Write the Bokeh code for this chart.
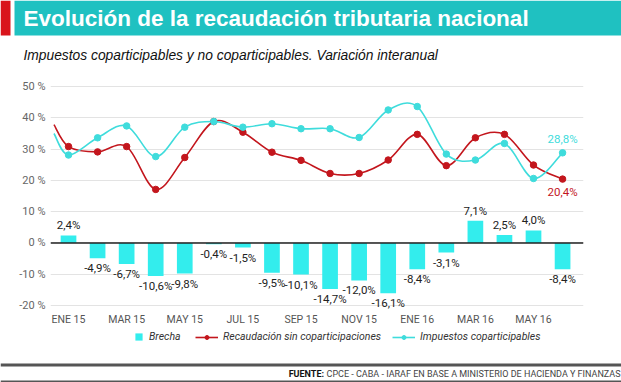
from bokeh.plotting import figure
from bokeh.layouts import column
from bokeh.models import (ColumnDataSource, FixedTicker, Span, Legend, LegendItem, Range1d)
from bokeh.core.properties import value
from bokeh.embed import file_html
from bokeh.resources import INLINE

# ---------------- data ----------------
MONTHS = ["ENE 15", "FEB 15", "MAR 15", "ABR 15", "MAY 15", "JUN 15", "JUL 15", "AGO 15",
          "SEP 15", "OCT 15", "NOV 15", "DIC 15", "ENE 16", "FEB 16", "MAR 16", "ABR 16",
          "MAY 16", "JUN 16"]
BRECHA = [2.4, -4.9, -6.7, -10.6, -9.8, -0.4, -1.5, -9.5, -10.1, -14.7, -12.0, -16.1,
          -8.4, -3.1, 7.1, 2.5, 4.0, -8.4]
RECAUDACION = [30.8, 29.1, 30.8, 17.1, 27.3, 38.8, 35.4, 29.0, 26.4, 22.2, 22.2, 26.5,
               34.7, 24.7, 33.6, 34.7, 24.9, 20.4]
COPARTICIPABLES = [28.1, 33.6, 37.4, 27.6, 37.0, 38.8, 37.0, 38.1, 36.5, 36.5, 33.7, 42.5,
                   43.6, 28.4, 26.5, 31.8, 20.6, 28.8]
# values where the curves enter the plot area (half a step before ENE 15)
LEAD_RECAUDACION = 37.8
LEAD_COPARTICIPABLES = 35.0
Y_TICKS = [-20, -10, 0, 10, 20, 30, 40, 50]
Y_TICK_LABELS = ["-20 %", "-10 %", "0 %", "10 %", "20 %", "30 %", "40 %", "50 %"]
X_TICK_LABELS = ["ENE 15", "MAR 15", "MAY 15", "JUL 15", "SEP 15", "NOV 15", "ENE 16",
                 "MAR 16", "MAY 16"]

TITLE = "Evolución de la recaudación tributaria nacional"
SUBTITLE = "Impuestos coparticipables y no coparticipables.  Variación interanual"
SOURCE_BOLD = "FUENTE:"
SOURCE = "CPCE - CABA - IARAF EN BASE A MINISTERIO DE HACIENDA Y FINANZAS"

# ---------------- styles ----------------
W = 621
H_HEAD, H_MAIN, H_LEG, H_FOOT = 66, 262, 18, 36
COND = "Roboto"
SANS = "Liberation Sans"
RED = "#c3161d"
CYAN = "#3fdcdc"
BAR = "#33eded"
TEAL = "#1fc1c1"
STRIP_RED = "#d9141b"


def pct(v):
    return f"{v:.1f}".replace(".", ",") + "%"


def blank_fig(h, **kw):
    f = figure(width=W, height=h, output_backend="svg", toolbar_location=None,
               x_axis_location=None, y_axis_location=None, min_border=0,
               outline_line_color=None, background_fill_color="white",
               border_fill_color="white", **kw)
    f.grid.visible = False
    f.frame_align = False
    return f


# ---------------- header ----------------
head = blank_fig(H_HEAD, x_range=Range1d(0, W), y_range=Range1d(H_HEAD, 0))
head.quad(left=[0], right=[10], top=[0], bottom=[35], fill_color=STRIP_RED, line_color=None)
head.quad(left=[14], right=[W], top=[0], bottom=[35], fill_color=TEAL, line_color=None)
head.text(x=[23], y=[18], text=[TITLE], text_font=value(SANS), text_font_style="bold",
          text_font_size="22.5px", text_color="white", text_baseline="middle")
head.text(x=[23], y=[55], text=[SUBTITLE], text_font=value(SANS), text_font_style="italic",
          text_font_size="13.8px", text_color="#111111", text_baseline="middle")

# ---------------- main chart ----------------
idx = list(range(len(MONTHS)))

p = figure(width=W, height=H_MAIN, output_backend="svg", toolbar_location=None,
           x_range=(-0.62, 17.72), y_range=(-21.6, 51.6),
           min_border_left=50, min_border_right=38, min_border_top=15,
           min_border_bottom=16, outline_line_color=None,
           background_fill_color="white", border_fill_color="white")
p.frame_align = False

p.yaxis.ticker = FixedTicker(ticks=Y_TICKS)
p.yaxis.major_label_overrides = {t: l for t, l in zip(Y_TICKS, Y_TICK_LABELS)}
p.xaxis.ticker = FixedTicker(ticks=[MONTHS.index(m) for m in X_TICK_LABELS])
p.xaxis.major_label_overrides = {MONTHS.index(m): m for m in X_TICK_LABELS}
for ax in (p.xaxis, p.yaxis):
    ax.axis_line_color = None
    ax.major_tick_line_color = None
    ax.minor_tick_line_color = None
    ax.major_tick_out = 0
    ax.major_tick_in = 0
    ax.major_label_text_font = COND
p.yaxis.major_label_text_font_size = "11px"
p.yaxis.major_label_text_color = "#666666"
p.yaxis.major_label_standoff = 5
p.xaxis.major_label_text_font_size = "10.5px"
p.xaxis.major_label_text_color = "#555555"
p.xaxis.major_label_standoff = 2

p.xgrid.grid_line_color = None
p.ygrid.ticker = FixedTicker(ticks=Y_TICKS)
p.ygrid.grid_line_color = "#e3e3e3"

p.vbar(x=idx, top=BRECHA, width=0.54, fill_color=BAR, line_color=None)
p.add_layout(Span(location=0, dimension="width", line_color="#222222", line_width=1.6))

pos = [i for i in idx if BRECHA[i] >= 0]
neg = [i for i in idx if BRECHA[i] < 0]
p.text(x=pos, y=[BRECHA[i] for i in pos], text=[pct(BRECHA[i]) for i in pos],
       text_align="center", text_baseline="bottom", y_offset=-3,
       text_font=value(COND), text_font_size="11.5px", text_color="#222222")
p.text(x=neg, y=[BRECHA[i] for i in neg], text=[pct(BRECHA[i]) for i in neg],
       text_align="center", text_baseline="top", y_offset=3,
       text_font=value(COND), text_font_size="11.5px", text_color="#222222")


def bezier_segments(xs, ys):
    n = len(xs)
    out = dict(x0=[], y0=[], x1=[], y1=[], cx0=[], cy0=[], cx1=[], cy1=[])
    for i in range(n - 1):
        xp, yp = (xs[i - 1], ys[i - 1]) if i > 0 else (xs[i], ys[i])
        xn, yn = (xs[i + 2], ys[i + 2]) if i + 2 < n else (xs[i + 1], ys[i + 1])
        out["x0"].append(xs[i]); out["y0"].append(ys[i])
        out["x1"].append(xs[i + 1]); out["y1"].append(ys[i + 1])
        out["cx0"].append(xs[i] + (xs[i + 1] - xp) / 6)
        out["cy0"].append(ys[i] + (ys[i + 1] - yp) / 6)
        out["cx1"].append(xs[i + 1] - (xn - xs[i]) / 6)
        out["cy1"].append(ys[i + 1] - (yn - ys[i]) / 6)
    return out


series = [
    (RECAUDACION, LEAD_RECAUDACION, RED, "Recaudación sin coparticipaciones"),
    (COPARTICIPABLES, LEAD_COPARTICIPABLES, CYAN, "Impuestos coparticipables"),
]
for vals, lead, col, name in series:
    xs = [-0.5] + idx
    ys = [lead] + list(vals)
    p.bezier(source=ColumnDataSource(bezier_segments(xs, ys)), x0="x0", y0="y0",
             x1="x1", y1="y1", cx0="cx0", cy0="cy0", cx1="cx1", cy1="cy1",
             line_color=col, line_width=1.6)
    p.scatter(x=idx, y=vals, size=6.5, fill_color=col, line_color=col)

p.text(x=[idx[-1]], y=[COPARTICIPABLES[-1]], text=[pct(COPARTICIPABLES[-1])],
       text_align="center", text_baseline="middle", y_offset=-14,
       text_font=value(COND), text_font_size="11.5px", text_color=CYAN)
p.text(x=[idx[-1]], y=[RECAUDACION[-1]], text=[pct(RECAUDACION[-1])],
       text_align="center", text_baseline="middle", y_offset=13,
       text_font=value(COND), text_font_size="11.5px", text_color=RED)

# ---------------- legend strip ----------------
# the legend's renderers repeat the series, kept outside this strip's visible range
leg = blank_fig(H_LEG, x_range=Range1d(-3, -2), y_range=Range1d(0, 1))
leg.min_border_top = 3
leg.min_border_bottom = 3
lb = leg.vbar(x=idx, top=BRECHA, width=0.54, fill_color=BAR, line_color=None)
line_items = []
for vals, lead, col, name in series:
    lr = leg.line(x=idx, y=vals, line_color=col, line_width=1.6)
    ls = leg.scatter(x=idx, y=vals, fill_color=col, line_color=col)
    line_items.append(LegendItem(label=name, renderers=[lr, ls]))

common = dict(orientation="horizontal", padding=0, margin=0, label_height=12,
              border_line_color=None, background_fill_alpha=0, label_text_font=COND,
              label_text_font_size="10.5px", label_text_font_style="italic",
              label_text_color="#333333")
leg.add_layout(Legend(items=[LegendItem(label="Brecha", renderers=[lb])], location=(134, 0),
                      glyph_width=9, glyph_height=9, label_standoff=6, **common))
leg.add_layout(Legend(items=line_items, location=(195, 0), glyph_width=23, glyph_height=10,
                      label_standoff=5, spacing=11, **common))

# ---------------- footer ----------------
foot = blank_fig(H_FOOT, x_range=Range1d(0, W), y_range=Range1d(H_FOOT, 0))
foot.quad(left=[0], right=[W], top=[17], bottom=[20], fill_color="#555555", line_color=None)
foot.quad(left=[0], right=[W], top=[34], bottom=[36], fill_color="#555555", line_color=None)
foot.text(x=[W - 1], y=[27], text=[SOURCE], text_font=value(COND), text_font_size="9px",
          text_color="#444444", text_baseline="middle", text_align="right")
foot.text(x=[W - 297.5], y=[27], text=[SOURCE_BOLD], text_font=value(COND),
          text_font_style="bold", text_font_size="9px", text_color="#111111",
          text_baseline="middle", text_align="right")

layout = column(head, p, leg, foot, spacing=0)
open("out.html", "w").write(file_html(layout, INLINE))
